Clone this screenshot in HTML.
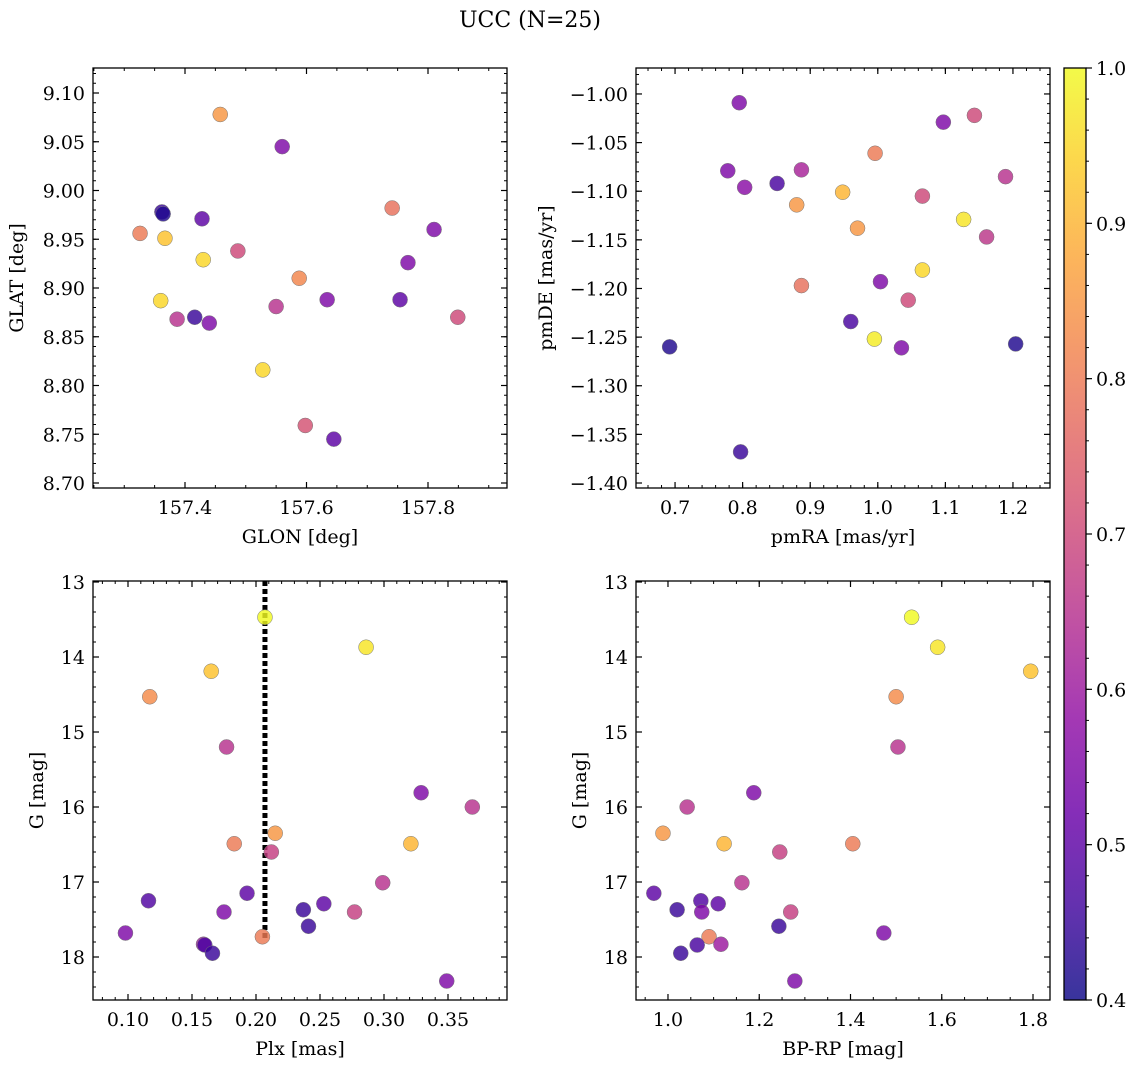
<!DOCTYPE html>
<html><head><meta charset="utf-8">
<style>
html,body{margin:0;padding:0;background:#fff;}
svg{display:block;font-family:"DejaVu Serif","Liberation Serif",serif;}
</style></head>
<body>
<svg id="fig" width="1136" height="1067" viewBox="0 0 1136 1067" xmlns="http://www.w3.org/2000/svg">
<text x="530" y="27" font-size="22" text-anchor="middle">UCC (N=25)</text>
</svg>
<script>
// ---------- DATA ----------
const p1Glon = [157.458,157.560,157.362,157.364,157.428,157.326,157.367,157.430,157.487,157.741,157.810,157.767,157.588,157.360,157.416,157.387,157.440,157.550,157.634,157.754,157.849,157.528,157.598,157.645];
const p1Glat = [9.078,9.045,8.978,8.976,8.971,8.956,8.951,8.929,8.938,8.982,8.960,8.926,8.910,8.887,8.870,8.868,8.864,8.881,8.888,8.888,8.870,8.816,8.759,8.745];
const p1Prob = [0.85,0.55,0.45,0.42,0.5,0.8,0.92,0.95,0.7,0.78,0.55,0.55,0.82,0.95,0.45,0.65,0.55,0.65,0.55,0.5,0.7,0.95,0.72,0.5];

const p2PmRA = [1.097,1.143,0.996,1.189,0.948,1.066,1.127,0.970,1.161,1.066,1.004,1.045,0.960,0.995,1.035,1.204,0.795,0.778,0.803,0.851,0.887,0.880,0.887,0.692,0.797];
const p2PmDE = [-1.029,-1.022,-1.061,-1.085,-1.101,-1.105,-1.129,-1.138,-1.147,-1.181,-1.193,-1.212,-1.234,-1.252,-1.261,-1.257,-1.009,-1.079,-1.096,-1.092,-1.078,-1.114,-1.197,-1.260,-1.368];
const p2Prob = [0.55,0.7,0.8,0.65,0.9,0.7,0.97,0.85,0.66,0.95,0.55,0.7,0.47,0.98,0.55,0.42,0.55,0.55,0.57,0.47,0.62,0.85,0.78,0.42,0.45];

const cmdG    = [13.47,13.87,14.19,14.53,15.20,15.81,16.00,16.35,16.49,16.49,16.60,17.01,17.15,17.25,17.29,17.37,17.40,17.40,17.59,17.68,17.73,17.83,17.84,17.95,18.32];
const cmdPlx  = [0.207,0.286,0.165,0.117,0.177,0.329,0.369,0.215,0.183,0.321,0.212,0.299,0.193,0.116,0.253,0.237,0.175,0.277,0.241,0.098,0.205,0.159,0.160,0.166,0.349];
const cmdBPRP = [1.534,1.591,1.795,1.500,1.504,1.188,1.042,0.989,1.405,1.123,1.245,1.162,0.969,1.072,1.110,1.020,1.074,1.269,1.243,1.473,1.090,1.116,1.064,1.028,1.278];
const cmdProb = [1.0,0.97,0.92,0.83,0.65,0.55,0.65,0.85,0.8,0.9,0.68,0.65,0.5,0.48,0.5,0.45,0.55,0.68,0.45,0.55,0.8,0.6,0.47,0.45,0.55];

const plxLineX = 0.207;
const plxLineGEnd = 17.77;

const p1XTicks = [157.4,157.6,157.8];
const p1YTicks = [8.70,8.75,8.80,8.85,8.90,8.95,9.00,9.05,9.10];
const p2XTicks = [0.7,0.8,0.9,1.0,1.1,1.2];
const p2YTicks = [-1.40,-1.35,-1.30,-1.25,-1.20,-1.15,-1.10,-1.05,-1.00];
const p3XTicks = [0.10,0.15,0.20,0.25,0.30,0.35];
const gTicks = [13,14,15,16,17,18];
const p4XTicks = [1.0,1.2,1.4,1.6,1.8];
const cbTicks = [0.4,0.5,0.6,0.7,0.8,0.9,1.0];

// ---------- helpers ----------
const NS = "http://www.w3.org/2000/svg";
const svg = document.getElementById('fig');
const FS = 19;
function el(tag, attrs, parent){
  const e = document.createElementNS(NS, tag);
  for (const k in attrs) e.setAttribute(k, attrs[k]);
  (parent||svg).appendChild(e);
  return e;
}
const stops = ["#0d0887","#41049d","#6a00a8","#8f0da4","#b12a90","#cc4778","#e16462","#f2844b","#fca636","#fcce25","#f0f921"];
function hex(h){return [parseInt(h.slice(1,3),16),parseInt(h.slice(3,5),16),parseInt(h.slice(5,7),16)];}
function plasma(t){
  t=Math.max(0,Math.min(1,t));
  const f=t*10, i=Math.min(9,Math.floor(f)), r=f-i;
  const a=hex(stops[i]), b=hex(stops[i+1]);
  return "rgb("+a.map((v,k)=>Math.round(v+(b[k]-v)*r)).join(",")+")";
}
const vmin=0.4, vmax=1.0;
function pcol(v){return plasma((v-vmin)/(vmax-vmin));}
function fmt(v,d){return v.toFixed(d).replace('-','\u2212');}

function makeAxes(o){
  const g = el('g',{});
  
  
  const sx = v => o.x0 + (v-o.xmin)/(o.xmax-o.xmin)*(o.x1-o.x0);
  const sy = o.yinv ? (v => o.y0 + (v-o.ymin)/(o.ymax-o.ymin)*(o.y1-o.y0))
                    : (v => o.y1 - (v-o.ymin)/(o.ymax-o.ymin)*(o.y1-o.y0));
  const mt = el('g',{stroke:'#000','stroke-width':1},g);
  
  
  for(let v=Math.ceil(o.xmin/o.xminor-1e-9)*o.xminor; v<=o.xmax+1e-9; v+=o.xminor){
    const x=sx(v);
    el('line',{x1:x,x2:x,y1:o.y1,y2:o.y1-3},mt);
    el('line',{x1:x,x2:x,y1:o.y0,y2:o.y0+3},mt);
  }
  for(let v=Math.ceil(o.ymin/o.yminor-1e-9)*o.yminor; v<=o.ymax+1e-9; v+=o.yminor){
    const y=sy(v);
    el('line',{x1:o.x0,x2:o.x0+3,y1:y,y2:y},mt);
    el('line',{x1:o.x1,x2:o.x1-3,y1:y,y2:y},mt);
  }
  o.xt.forEach(v=>{
    const x=sx(v);
    el('line',{x1:x,x2:x,y1:o.y1,y2:o.y1-6,stroke:'#000','stroke-width':1.2},g);
    el('line',{x1:x,x2:x,y1:o.y0,y2:o.y0+6,stroke:'#000','stroke-width':1.2},g);
    const t=el('text',{x:x,y:o.y1+26,'font-size':FS,'text-anchor':'middle'},g);
    
    
    t.textContent=fmt(v,o.xd);
  });
  o.yt.forEach(v=>{
    const y=sy(v);
    el('line',{x1:o.x0,x2:o.x0+6,y1:y,y2:y,stroke:'#000','stroke-width':1.2},g);
    el('line',{x1:o.x1,x2:o.x1-6,y1:y,y2:y,stroke:'#000','stroke-width':1.2},g);
    const t=el('text',{x:o.x0-8,y:y+7,'font-size':FS,'text-anchor':'end'},g);
    
    
    t.textContent=fmt(v,o.yd);
  });
  const fr=el('rect',{x:o.x0,y:o.y0,width:o.x1-o.x0,height:o.y1-o.y0,fill:'none',stroke:'#000','stroke-width':1.3},g);
  
  
  const xl=el('text',{x:(o.x0+o.x1)/2,y:o.y1+55,'font-size':FS,'text-anchor':'middle'},g);
  
  
  xl.textContent=o.xlabel;
  const yl=el('text',{x:0,y:0,'font-size':FS,'text-anchor':'middle',transform:'translate('+o.ylx+','+(o.y0+o.y1)/2+') rotate(-90)'},g);
  
  
  yl.textContent=o.ylabel;
  return {g,sx,sy};
}
function scatter(ax, xs, ys, cs){
  const pg = el('g',{},ax.g);
  
  
  xs.forEach((v,i)=>{
    const c=el('circle',{cx:ax.sx(v),cy:ax.sy(ys[i]),r:7.5,fill:pcol(cs[i]),'fill-opacity':0.82,stroke:'#777','stroke-width':0.5},pg);
    
    
  });
}

// Panel 1
const a1 = makeAxes({name:'panel-glon-glat',x0:93,x1:507,y0:68,y1:488,
  xmin:157.4-92/607.5,xmax:157.8+79/607.5,ymin:8.70-5/975,ymax:9.10+25/975,
  xt:p1XTicks,yt:p1YTicks,xd:1,yd:2,xminor:0.05,yminor:0.01,
  xlabel:'GLON [deg]',ylabel:'GLAT [deg]',ylx:23});
scatter(a1,p1Glon,p1Glat,p1Prob);

// Panel 2
const a2 = makeAxes({name:'panel-pm',x0:636,x1:1050,y0:68,y1:488,
  xmin:0.7-39/675,xmax:1.2+37/675,ymin:-1.40-5/974,ymax:-1.00+26/974,
  xt:p2XTicks,yt:p2YTicks,xd:1,yd:2,xminor:0.02,yminor:0.01,
  xlabel:'pmRA [mas/yr]',ylabel:'pmDE [mas/yr]',ylx:552});
scatter(a2,p2PmRA,p2PmDE,p2Prob);

// Panel 3
const a3 = makeAxes({name:'panel-plx-g',x0:93,x1:507,y0:581,y1:1000,yinv:true,
  xmin:0.10-35/1280,xmax:0.35+59/1280,ymin:13-1/75,ymax:18+43/75,
  xt:p3XTicks,yt:gTicks,xd:2,yd:0,xminor:0.01,yminor:0.2,
  xlabel:'Plx [mas]',ylabel:'G [mag]',ylx:43});
const ln=el('line',{x1:a3.sx(plxLineX),x2:a3.sx(plxLineX),y1:a3.sy(13-1/75),y2:a3.sy(plxLineGEnd),stroke:'#000','stroke-width':5,'stroke-dasharray':'5 3'},a3.g);


scatter(a3,cmdPlx,cmdG,cmdProb);

// Panel 4
const a4 = makeAxes({name:'panel-cmd',x0:636,x1:1050,y0:581,y1:1000,yinv:true,
  xmin:1.0-32/456.5,xmax:1.8+17/456.5,ymin:13-1/75,ymax:18+43/75,
  xt:p4XTicks,yt:gTicks,xd:1,yd:0,xminor:0.05,yminor:0.2,
  xlabel:'BP-RP [mag]',ylabel:'G [mag]',ylx:586});
scatter(a4,cmdBPRP,cmdG,cmdProb);

// Colorbar
const cb = el('g',{});


const cbx0=1064, cbx1=1086, cby0=68, cby1=1000;
const defs=el('defs',{},cb);
const grad=el('linearGradient',{id:'cbg',x1:0,y1:1,x2:0,y2:0},defs);
for(let i=0;i<=20;i++){ el('stop',{offset:i/20,'stop-color':plasma(i/20),'stop-opacity':0.82},grad); }
el('rect',{x:cbx0,y:cby0,width:cbx1-cbx0,height:cby1-cby0,fill:'url(#cbg)',stroke:'#000','stroke-width':1.3},cb);
const cbY = v => cby1-(v-vmin)/(vmax-vmin)*(cby1-cby0);
for(let v=0.4; v<=1.0001; v+=0.02){
  el('line',{x1:cbx1,x2:cbx1+3,y1:cbY(v),y2:cbY(v),stroke:'#000','stroke-width':1},cb);
}
cbTicks.forEach(v=>{
  el('line',{x1:cbx1,x2:cbx1+6,y1:cbY(v),y2:cbY(v),stroke:'#000','stroke-width':1.2},cb);
  const t=el('text',{x:cbx1+10,y:cbY(v)+7,'font-size':FS},cb);
  
  
  t.textContent=v.toFixed(1);
});
</script>
</body></html>
